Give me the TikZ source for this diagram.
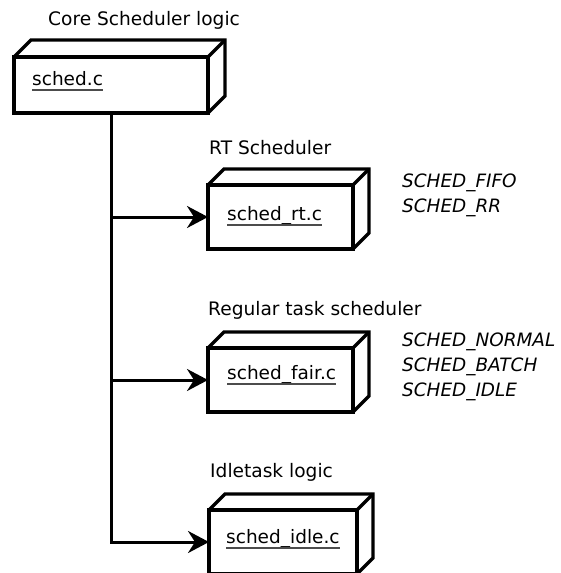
\documentclass[tikz,border=0pt]{standalone}
\usepackage{fontspec}
\setmainfont{DejaVu Sans}
\usetikzlibrary{arrows.meta}

\tikzset{
  boxline/.style={line width=3.2pt, line join=miter},
  module/.style={boxline, draw, fill=white, rectangle, inner sep=0pt, outer sep=0pt, anchor=north west},
  filename/.style={inner sep=0pt, anchor=base west, font=\fontsize{18.5}{21}\selectfont},
  caption/.style={inner sep=0pt, anchor=base west, font=\fontsize{18.6}{21}\selectfont},
  % anchored at the baseline of the last line
  policies/.style={inner sep=0pt, anchor=base west, font=\fontsize{18.4}{24.7}\selectfont\itshape, align=left},
  uline/.style={line width=1.6pt, black!70},
  link/.style={line width=3pt, -{Stealth[length=21pt, width=22pt, inset=7pt]}},
}

% extruded top and right faces of a module box
\newcommand{\boxdepth}[2]{%
  \draw[boxline] (#1.north west) -- ++(#2,-#2) -| ([shift={(#2,-#2)}]#1.south east) -- (#1.south east);
  \draw[boxline] (#1.north east) -- ++(#2,-#2);
}
% underline below a file name
\newcommand{\underfile}[1]{%
  \draw[uline] ([yshift=-5pt]#1.base west) -- ([yshift=-5pt]#1.base east);
}

\begin{document}
\begin{tikzpicture}[x=1pt, y=-1pt]
\useasboundingbox (0,0) rectangle (560,573);
\fill[white] (0,0) rectangle (560,573);

% core scheduler
\node[caption] (capcore) at (48,25) {Core Scheduler logic};
\node[module, minimum width=194pt, minimum height=56pt] (core) at (14,57) {};
\boxdepth{core}{17}
\node[filename] (fcore) at (32,85) {sched.c};
\underfile{fcore}

% real-time scheduler
\node[caption] (caprt) at (209,154) {RT Scheduler};
\node[module, minimum width=145pt, minimum height=64pt] (rt) at (208,185) {};
\boxdepth{rt}{16}
\node[filename] (frt) at (227,220) {sched\_rt.c};
\underfile{frt}
\node[policies] (prt) at (402,212) {SCHED\_FIFO\\SCHED\_RR};

% fair scheduler
\node[caption] (capfair) at (208,315) {Regular task scheduler};
\node[module, minimum width=145pt, minimum height=64pt] (fair) at (208,348) {};
\boxdepth{fair}{16}
\node[filename] (ffair) at (227,379) {sched\_fair.c};
\underfile{ffair}
\node[policies] (pfair) at (402,396) {SCHED\_NORMAL\\SCHED\_BATCH\\SCHED\_IDLE};

% idle task
\node[caption] (capidle) at (210,477) {Idletask logic};
\node[module, minimum width=148pt, minimum height=64pt] (idle) at (209,510) {};
\boxdepth{idle}{16}
\node[filename] (fidle) at (226,543) {sched\_idle.c};
\underfile{fidle}

% connectors
\draw[link] (core.south) |- (idle.west);
\draw[link] (core.south |- rt.west) -- (rt.west);
\draw[link] (core.south |- fair.west) -- (fair.west);
\end{tikzpicture}
\end{document}
